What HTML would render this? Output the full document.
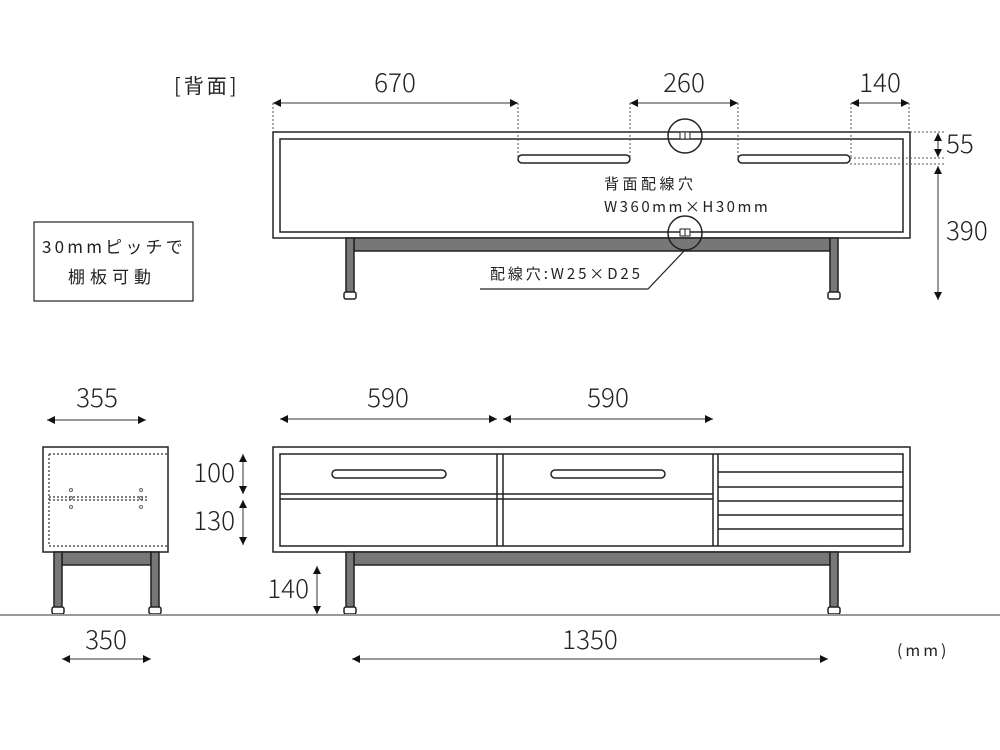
<!DOCTYPE html>
<html><head><meta charset="utf-8"><style>
html,body{margin:0;padding:0;background:#fff;width:1000px;height:750px;overflow:hidden}
svg{display:block}
text{font-family:"Noto Sans CJK JP","Liberation Sans",sans-serif;fill:#222}
.n{font-size:26px;font-weight:300}
</style></head><body>
<svg width="1000" height="750" viewBox="0 0 1000 750" xmlns="http://www.w3.org/2000/svg">
<defs>
<marker id="a" viewBox="0 0 10 10" refX="10" refY="5" markerWidth="8" markerHeight="8" orient="auto-start-reverse" markerUnits="userSpaceOnUse"><path d="M0,0 L10,5 L0,10z" fill="#111"/></marker>
</defs>
<g stroke="#222" stroke-width="1.5" fill="#fff">
<rect x="273" y="132" width="637" height="106"/>
<rect x="280" y="139" width="623" height="93"/>
<rect x="354" y="238" width="476" height="13" fill="#777"/>
<rect x="346" y="238" width="8" height="55" fill="#777"/>
<rect x="830" y="238" width="8" height="55" fill="#777"/>
<rect x="344" y="292" width="12" height="7" rx="2"/>
<rect x="828" y="292" width="12" height="7" rx="2"/>
<rect x="518" y="155" width="112" height="8" rx="4"/>
<rect x="738" y="155" width="112" height="8" rx="4"/>
<circle cx="685" cy="136" r="17" fill="none"/>
<circle cx="685" cy="233" r="17" fill="none"/>
<rect x="680" y="132" width="10" height="7" fill="#fff" stroke-width="1"/>
<line x1="685" y1="132" x2="685" y2="139" stroke-width="1"/>
<rect x="680" y="229" width="10" height="7" fill="#fff" stroke-width="1"/>
<line x1="685" y1="229" x2="685" y2="236" stroke-width="1"/>
<polyline points="685,250 648,289 480,289" fill="none" stroke-width="1.2"/>
<rect x="34" y="222" width="159" height="79" stroke-width="1.2"/>
<rect x="273" y="447" width="637" height="105"/>
<rect x="280" y="454" width="623" height="92"/>
<line x1="497" y1="454" x2="497" y2="546"/><line x1="503" y1="454" x2="503" y2="546"/>
<line x1="713" y1="454" x2="713" y2="546"/><line x1="718" y1="454" x2="718" y2="546"/>
<line x1="280" y1="494" x2="713" y2="494"/><line x1="280" y1="499" x2="713" y2="499"/>
<line x1="718" y1="472" x2="903" y2="472"/><line x1="718" y1="487" x2="903" y2="487"/>
<line x1="718" y1="501" x2="903" y2="501"/><line x1="718" y1="515" x2="903" y2="515"/>
<line x1="718" y1="529" x2="903" y2="529"/>
<rect x="332" y="470" width="114" height="8" rx="4"/>
<rect x="551" y="470" width="114" height="8" rx="4"/>
<rect x="354" y="552" width="476" height="13" fill="#777"/>
<rect x="346" y="552" width="8" height="56" fill="#777"/>
<rect x="830" y="552" width="8" height="56" fill="#777"/>
<rect x="344" y="607" width="12" height="7" rx="2"/>
<rect x="828" y="607" width="12" height="7" rx="2"/>
<rect x="43" y="447" width="125" height="105"/>
<rect x="62" y="552" width="89" height="13" fill="#777"/>
<rect x="54" y="552" width="8" height="56" fill="#777"/>
<rect x="151" y="552" width="8" height="56" fill="#777"/>
<rect x="52" y="607" width="12" height="7" rx="2"/>
<rect x="149" y="607" width="12" height="7" rx="2"/>
</g>
<g stroke="#333" stroke-width="1.2" stroke-dasharray="2,2" fill="none">
<line x1="49" y1="454" x2="168" y2="454"/><line x1="49" y1="546" x2="168" y2="546"/>
<line x1="49" y1="454" x2="49" y2="546"/>
<line x1="49" y1="497" x2="147" y2="497"/><line x1="49" y1="500" x2="147" y2="500"/>
</g>
<g fill="none" stroke="#666" stroke-width="1">
<circle cx="71" cy="490" r="1.5"/><circle cx="71" cy="498" r="1.5"/><circle cx="71" cy="507" r="1.5"/>
<circle cx="141" cy="490" r="1.5"/><circle cx="141" cy="498" r="1.5"/><circle cx="141" cy="507" r="1.5"/>
</g>
<g stroke="#555" stroke-width="1" stroke-dasharray="2,2" fill="none">
<line x1="273" y1="103" x2="273" y2="132"/>
<line x1="518" y1="103" x2="518" y2="158"/>
<line x1="630" y1="103" x2="630" y2="158"/>
<line x1="738" y1="103" x2="738" y2="158"/>
<line x1="851" y1="103" x2="851" y2="158"/>
<line x1="909" y1="103" x2="909" y2="132"/>
<line x1="910" y1="132" x2="945" y2="132"/>
<line x1="850" y1="158" x2="945" y2="158"/>
<line x1="850" y1="164" x2="945" y2="164"/>
</g>
<g stroke="#333" stroke-width="1" marker-start="url(#a)" marker-end="url(#a)">
<line x1="273" y1="103" x2="518" y2="103"/>
<line x1="630" y1="103" x2="738" y2="103"/>
<line x1="851" y1="103" x2="909" y2="103"/>
<line x1="938" y1="133" x2="938" y2="157"/>
<line x1="938" y1="166" x2="938" y2="300"/>
<line x1="47" y1="420" x2="146" y2="420"/>
<line x1="280" y1="419" x2="497" y2="419"/>
<line x1="503" y1="419" x2="713" y2="419"/>
<line x1="243" y1="454" x2="243" y2="494"/>
<line x1="243" y1="500" x2="243" y2="545"/>
<line x1="317" y1="566" x2="317" y2="614"/>
<line x1="62" y1="659" x2="151" y2="659"/>
<line x1="352" y1="659" x2="828" y2="659"/>
</g>
<line x1="0" y1="615" x2="1000" y2="615" stroke="#999" stroke-width="2"/>
<text x="174" y="93" font-size="20" letter-spacing="3">[背面]</text>
<text class="n" x="395" y="92" text-anchor="middle">670</text>
<text class="n" x="684" y="92" text-anchor="middle">260</text>
<text class="n" x="880" y="92" text-anchor="middle">140</text>
<text class="n" x="946" y="153">55</text>
<text class="n" x="946" y="240">390</text>
<text x="604" y="189" font-size="15" letter-spacing="3.5">背面配線穴</text>
<text x="604" y="212" font-size="15" letter-spacing="2.5">W360mm×H30mm</text>
<text x="490" y="279" font-size="15" letter-spacing="2.9">配線穴:W25×D25</text>
<text x="42" y="253" font-size="17" letter-spacing="3.2">30mmピッチで</text>
<text x="68" y="283" font-size="17" letter-spacing="5">棚板可動</text>
<text class="n" x="97" y="407" text-anchor="middle">355</text>
<text class="n" x="388" y="407" text-anchor="middle">590</text>
<text class="n" x="608" y="407" text-anchor="middle">590</text>
<text class="n" x="235" y="482" text-anchor="end">100</text>
<text class="n" x="235" y="530" text-anchor="end">130</text>
<text class="n" x="309" y="598" text-anchor="end">140</text>
<text class="n" x="106" y="649" text-anchor="middle">350</text>
<text class="n" x="590" y="649" text-anchor="middle">1350</text>
<text x="897" y="656" font-size="16" letter-spacing="3">(mm)</text>
</svg>
</body></html>
